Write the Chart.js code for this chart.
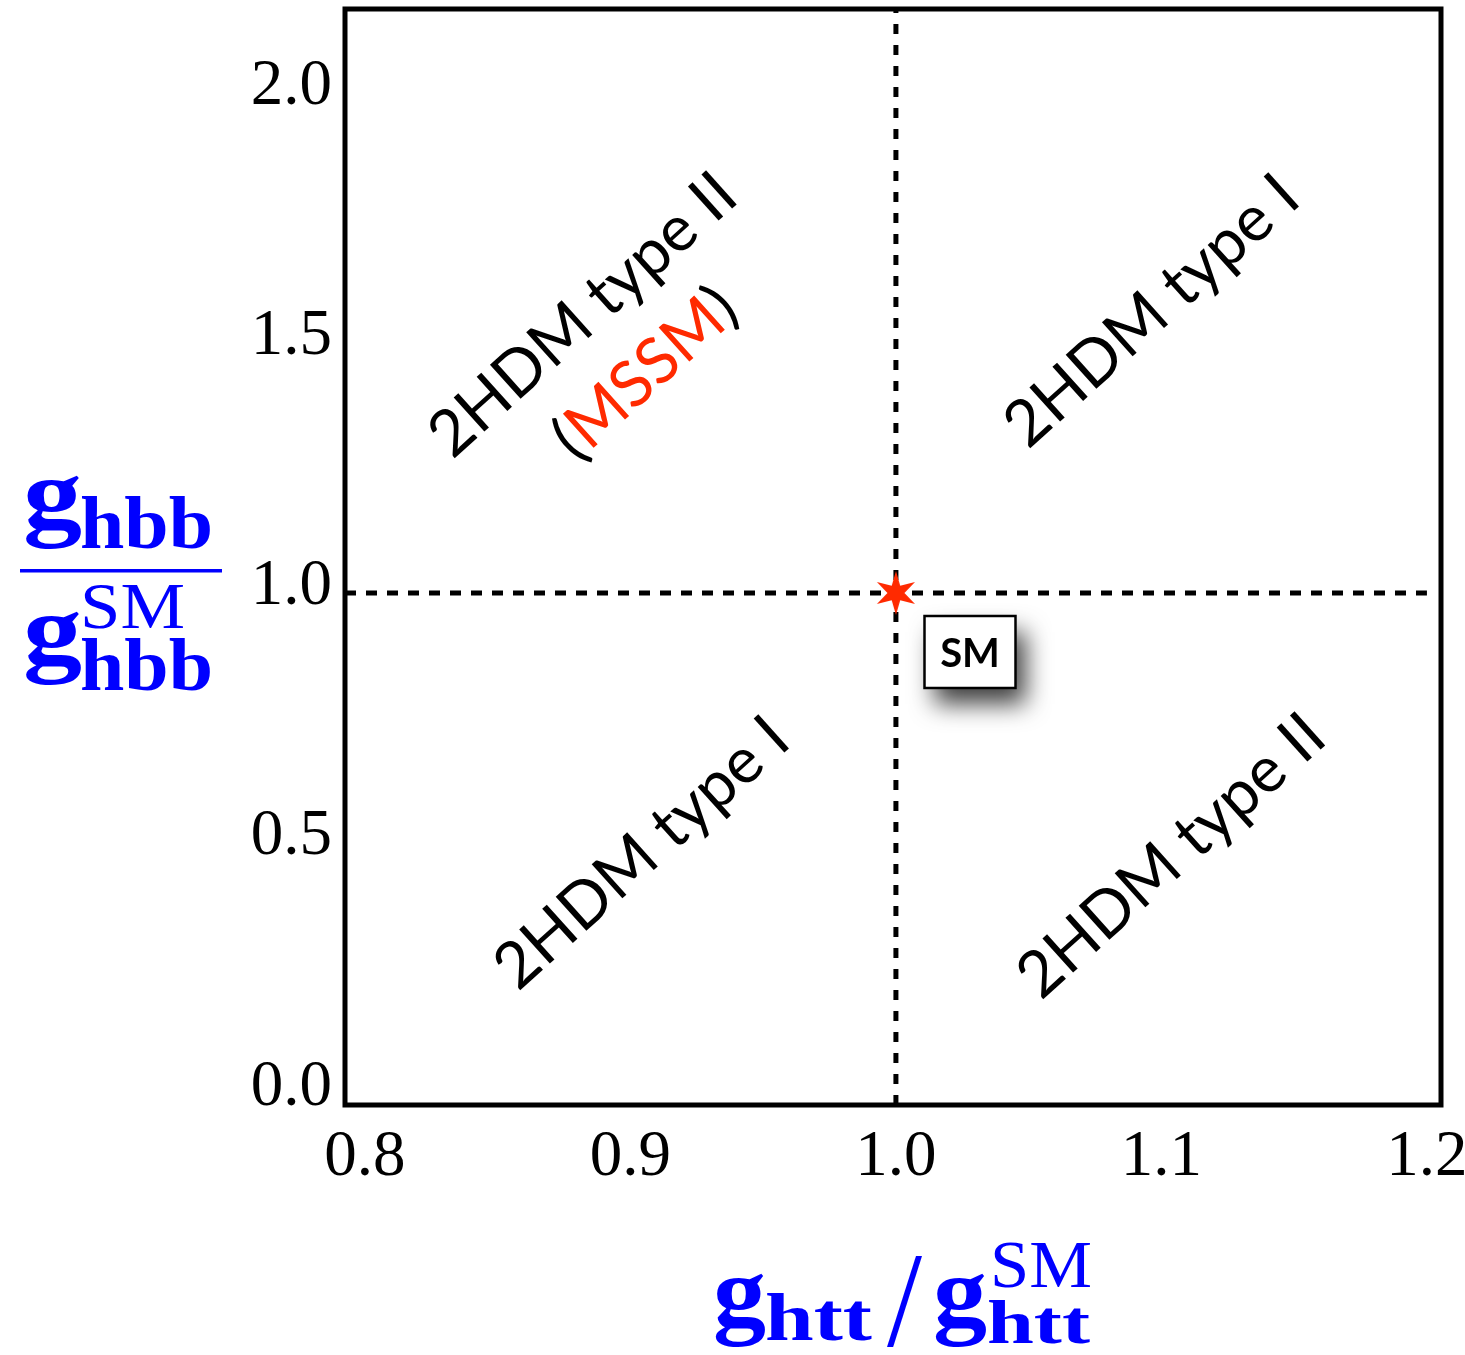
<!DOCTYPE html>
<html>
<head>
    <title>2HDM couplings</title>
    <script src="https://cdn.jsdelivr.net/npm/chart.js"></script>
    <style>
        body { margin: 0; background: #fff; }
    </style>
</head>
<body>

    <canvas id="couplingChart" width="1465" height="1355"></canvas>

    <script>
        // Axis ranges and ticks
        var xRange = [0.7925, 1.2053];
        var yRange = [-0.023, 2.1668];
        var xTicks = [0.8, 0.9, 1.0, 1.1, 1.2];
        var yTicks = [0.0, 0.5, 1.0, 1.5, 2.0];

        // SM point and the two dashed SM lines
        var smPoint = [{ x: 1.0, y: 1.0 }];
        var hLine = [{ x: xRange[0], y: 1.0 }, { x: 1.2, y: 1.0 }];
        var vLine = [{ x: 1.0, y: yRange[0] }, { x: 1.0, y: yRange[1] }];

        // Region labels (centre of each label, in data units)
        var regionText = ["2HDM type II", "2HDM type I", "2HDM type I", "2HDM type II"];
        var regionX = [0.8821, 1.0964, 0.9043, 1.1038];
        var regionY = [1.5554, 1.5634, 0.4805, 0.4745];
        var mssmPos = { x: 0.9056, y: 1.4385 };
        var smBoxPos = { x: 1.0279, y: 0.8821 };

        var RED = "#ff2a00";
        var BLUE = "#0000ff";

        // Six pointed star used as point style
        function makeStar() {
            var c = document.createElement("canvas");
            c.width = 48; c.height = 48;
            var g = c.getContext("2d");
            g.fillStyle = RED;
            g.beginPath();
            for (var i = 0; i < 12; i++) {
                var r = (i % 2 === 0) ? 22 : 8.5;
                var a = -Math.PI / 2 + i * Math.PI / 6;
                var px = 24 + r * Math.cos(a), py = 24 + r * Math.sin(a);
                if (i === 0) g.moveTo(px, py); else g.lineTo(px, py);
            }
            g.closePath();
            g.fill();
            return c;
        }

        // text with horizontal stretch to hit a given width
        function stretchText(ctx, str, x, y, font, color, width) {
            ctx.save();
            ctx.font = font;
            ctx.fillStyle = color;
            ctx.textAlign = "left";
            ctx.textBaseline = "alphabetic";
            var w = ctx.measureText(str).width;
            var s = width ? width / w : 1;
            ctx.translate(x, y);
            ctx.scale(s, 1);
            ctx.fillText(str, 0, 0);
            ctx.restore();
        }

        var decorPlugin = {
            id: "decor",
            afterDatasetsDraw: function (chart) {
                var ctx = chart.ctx;
                var a = chart.chartArea;
                var xs = chart.scales.x, ys = chart.scales.y;

                // frame
                ctx.save();
                ctx.lineWidth = 5;
                ctx.strokeStyle = "#000";
                ctx.strokeRect(a.left, a.top, a.right - a.left, a.bottom - a.top);
                ctx.restore();

                // rotated region labels
                ctx.save();
                ctx.font = "400 64px Lato";
                ctx.fillStyle = "#000";
                ctx.textAlign = "center";
                ctx.textBaseline = "middle";
                for (var i = 0; i < regionText.length; i++) {
                    ctx.save();
                    ctx.translate(xs.getPixelForValue(regionX[i]), ys.getPixelForValue(regionY[i]));
                    ctx.rotate(-42 * Math.PI / 180);
                    ctx.fillText(regionText[i], 0, 0);
                    ctx.restore();
                }
                // (MSSM) with red inner part
                ctx.translate(xs.getPixelForValue(mssmPos.x), ys.getPixelForValue(mssmPos.y));
                ctx.rotate(-42 * Math.PI / 180);
                ctx.textAlign = "left";
                var parts = ["(", "MSSM", ")"];
                var cols = ["#000", RED, "#000"];
                var total = 0;
                parts.forEach(function (p) { total += ctx.measureText(p).width; });
                var cx = -total / 2;
                parts.forEach(function (p, k) {
                    ctx.fillStyle = cols[k];
                    ctx.fillText(p, cx, 0);
                    cx += ctx.measureText(p).width;
                });
                ctx.restore();

                // SM box with shadow
                var bx = xs.getPixelForValue(smBoxPos.x), by = ys.getPixelForValue(smBoxPos.y);
                var bw = 91, bh = 72;
                ctx.save();
                ctx.shadowColor = "rgba(0,0,0,0.75)";
                ctx.shadowBlur = 24;
                ctx.shadowOffsetX = 10;
                ctx.shadowOffsetY = 16;
                ctx.fillStyle = "#fff";
                ctx.fillRect(bx - bw / 2, by - bh / 2, bw, bh);
                ctx.restore();
                ctx.save();
                ctx.lineWidth = 2.5;
                ctx.strokeStyle = "#000";
                ctx.strokeRect(bx - bw / 2, by - bh / 2, bw, bh);
                ctx.font = "bold 40px Lato";
                ctx.fillStyle = "#000";
                ctx.textAlign = "center";
                ctx.textBaseline = "middle";
                ctx.fillText("SM", bx, by + 2);
                ctx.restore();
            },
            afterDraw: function (chart) {
                var ctx = chart.ctx;
                var bold = function (s) { return "bold " + s + "px 'Liberation Serif'"; };
                var reg = function (s) { return s + "px 'Liberation Serif'"; };

                // y title: g_hbb / g_hbb^SM
                stretchText(ctx, "g", 23, 528, bold(100), BLUE, 59);
                stretchText(ctx, "hbb", 80, 548, bold(74), BLUE, 133);
                ctx.save();
                ctx.fillStyle = BLUE;
                ctx.fillRect(20, 569, 202, 3.5);
                ctx.restore();
                stretchText(ctx, "g", 23, 664, bold(100), BLUE, 59);
                stretchText(ctx, "SM", 80, 628, reg(65), BLUE, 105);
                stretchText(ctx, "hbb", 80, 690, bold(74), BLUE, 133);

                // x title: g_htt / g_htt^SM
                stretchText(ctx, "g", 713, 1326, bold(100), BLUE, 53);
                stretchText(ctx, "htt", 765, 1340, bold(68), BLUE, 107);
                stretchText(ctx, "/", 887, 1346, reg(135), BLUE, 35);
                stretchText(ctx, "g", 933, 1326, bold(100), BLUE, 54);
                stretchText(ctx, "SM", 990, 1287, reg(68), BLUE, 102);
                stretchText(ctx, "htt", 987, 1343, bold(62), BLUE, 103);
            }
        };

        var tickFont = { family: "'Liberation Serif'", size: 65 };

        var chart = new Chart(document.getElementById("couplingChart"), {
            type: "scatter",
            data: {
                datasets: [
                    {
                        type: "line",
                        data: hLine,
                        borderColor: "#000",
                        borderWidth: 5,
                        borderDash: [11, 10],
                        pointRadius: 0,
                        fill: false,
                        order: 2
                    },
                    {
                        type: "line",
                        data: vLine,
                        borderColor: "#000",
                        borderWidth: 5,
                        borderDash: [10, 11],
                        pointRadius: 0,
                        fill: false,
                        order: 2
                    },
                    {
                        data: smPoint,
                        pointStyle: makeStar(),
                        pointRadius: 22,
                        order: 0
                    }
                ]
            },
            options: {
                responsive: false,
                animation: false,
                layout: { autoPadding: false, padding: { top: 9, right: 24, left: 0, bottom: 0 } },
                plugins: {
                    legend: { display: false },
                    tooltip: { enabled: false }
                },
                scales: {
                    x: {
                        type: "linear",
                        min: xRange[0],
                        max: xRange[1],
                        grid: { display: false, drawTicks: false },
                        border: { display: false },
                        afterBuildTicks: function (s) {
                            s.ticks = xTicks.map(function (v) { return { value: v }; });
                        },
                        afterFit: function (s) {
                            s.height = 250;
                            s.paddingLeft = 0; s.paddingRight = 0;
                        },
                        ticks: {
                            font: tickFont,
                            color: "#000",
                            padding: 14,
                            maxRotation: 0,
                            callback: function (v) { return Number(v).toFixed(1); }
                        }
                    },
                    y: {
                        type: "linear",
                        min: yRange[0],
                        max: yRange[1],
                        grid: { display: false, drawTicks: false },
                        border: { display: false },
                        afterBuildTicks: function (s) {
                            s.ticks = yTicks.map(function (v) { return { value: v }; });
                        },
                        afterFit: function (s) {
                            s.width = 345;
                            s.paddingTop = 0; s.paddingBottom = 0;
                        },
                        ticks: {
                            font: tickFont,
                            color: "#000",
                            padding: 13,
                            labelOffset: -6,
                            callback: function (v) { return Number(v).toFixed(1); }
                        }
                    }
                }
            },
            plugins: [decorPlugin]
        });
    </script>

</body>
</html>
